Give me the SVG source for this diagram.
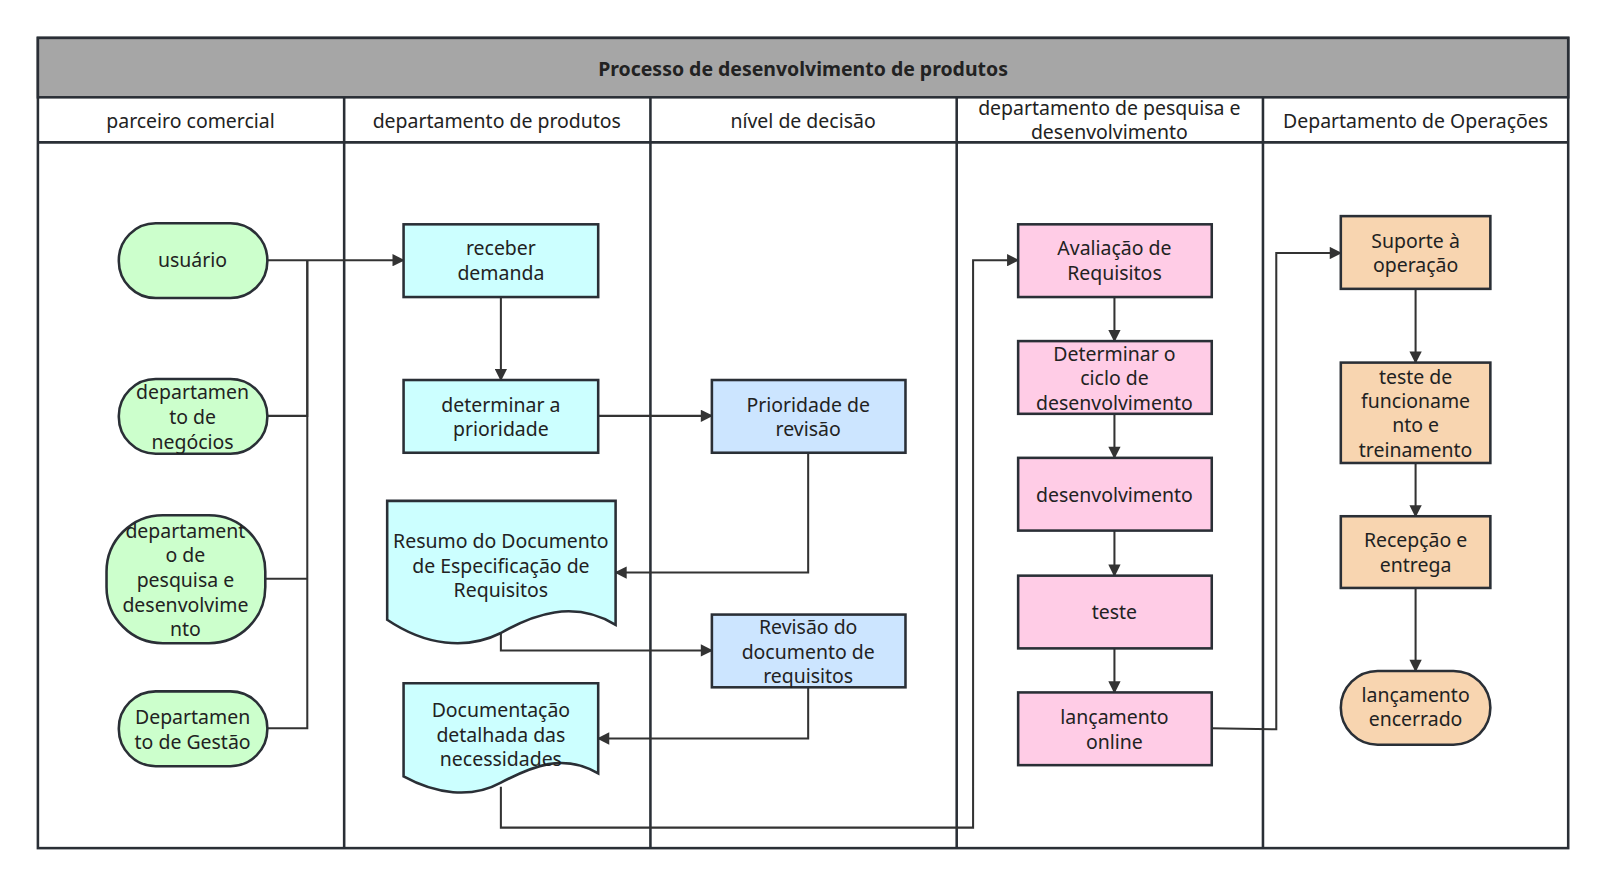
<svg xmlns="http://www.w3.org/2000/svg" width="1605" height="885" viewBox="0 0 1605 885">
<defs>
<style>
text{font-family:"Noto Sans","Open Sans","DejaVu Sans",sans-serif;font-size:19px;fill:#222;text-anchor:middle}
.ln{fill:none;stroke:#2a2f36;stroke-width:2.5}
.n{stroke:#2a2f36;stroke-width:2.5}
.g{fill:#ccffcc}.c{fill:#ccffff}.b{fill:#cce5ff}.p{fill:#ffcce6}.o{fill:#f8d5b0}
.cn{fill:none;stroke:#333;stroke-width:2;marker-end:url(#a)}
.cp{fill:none;stroke:#333;stroke-width:2}
</style>
<marker id="a" viewBox="0 0 10 10" refX="9" refY="5" markerWidth="16" markerHeight="12" orient="auto" markerUnits="userSpaceOnUse"><path d="M0,0L10,5L0,10z" fill="#333"/></marker>
</defs>
<g transform="scale(1.0243)">
<g id="frame">
<rect x="37" y="37" width="1494" height="791" style="fill:#fff" class="ln"/>
<rect x="37" y="37" width="1494" height="58" style="fill:#a6a6a6" class="ln"/>
<text x="784" y="74" style="font-weight:bold;font-size:19px">Processo de desenvolvimento de produtos</text>
<line x1="37" y1="139" x2="1531" y2="139" class="ln"/>
<line x1="336" y1="95" x2="336" y2="828" class="ln"/>
<line x1="635" y1="95" x2="635" y2="828" class="ln"/>
<line x1="934" y1="95" x2="934" y2="828" class="ln"/>
<line x1="1233" y1="95" x2="1233" y2="828" class="ln"/>
<text x="186" y="125">parceiro comercial</text>
<text x="485" y="125">departamento de produtos</text>
<text x="784" y="125">nível de decisão</text>
<text x="1083" y="112">departamento de pesquisa e</text>
<text x="1083" y="136">desenvolvimento</text>
<text x="1382" y="125">Departamento de Operações</text>
</g>
<g id="connectors">
<path d="M261,254H394" class="cn"/>
<path d="M261,406H300V254" class="cp"/>
<path d="M259,565H300" class="cp"/>
<path d="M261,711H300V254" class="cp"/>
<path d="M489,290V371" class="cn"/>
<path d="M584,406H695" class="cn"/>
<path d="M789,442V559H601" class="cn"/>
<path d="M489,612V635H695" class="cn"/>
<path d="M789,671V721H584" class="cn"/>
<path d="M489,768V808H950V254H994" class="cn"/>
<path d="M1088,290V333" class="cn"/>
<path d="M1088,404V447" class="cn"/>
<path d="M1088,518V562" class="cn"/>
<path d="M1088,633V676" class="cn"/>
<path d="M1183,711L1246,712V247H1309" class="cn"/>
<path d="M1382,282V354" class="cn"/>
<path d="M1382,452V504" class="cn"/>
<path d="M1382,574V655" class="cn"/>
</g>
<g id="n1"><rect x="116" y="218" width="145" height="73" rx="36" class="n g"/><text x="188" y="261">usuário</text></g>
<g id="n2"><rect x="116" y="370" width="145" height="73" rx="36" class="n g"/><text x="188" y="390">departamen</text><text x="188" y="414">to de</text><text x="188" y="438">negócios</text></g>
<g id="n3"><rect x="104" y="503" width="155" height="125" rx="55" class="n g"/><text x="181" y="525">departament</text><text x="181" y="549">o de</text><text x="181" y="573">pesquisa e</text><text x="181" y="597">desenvolvime</text><text x="181" y="621">nto</text></g>
<g id="n4"><rect x="116" y="675" width="145" height="73" rx="36" class="n g"/><text x="188" y="707">Departamen</text><text x="188" y="731">to de Gestão</text></g>
<g id="n5"><rect x="394" y="219" width="190" height="71" class="n c"/><text x="489" y="249">receber</text><text x="489" y="273">demanda</text></g>
<g id="n6"><rect x="394" y="371" width="190" height="71" class="n c"/><text x="489" y="402">determinar a</text><text x="489" y="426">prioridade</text></g>
<g id="n7"><path d="M378,489H601V610C560,585 520,600 489,618C455,635 415,630 378,605Z" class="n c"/><text x="489" y="535">Resumo do Documento</text><text x="489" y="559">de Especificação de</text><text x="489" y="583">Requisitos</text></g>
<g id="n8"><path d="M394,667H584V755C550,735 520,748 489,764C460,780 425,775 394,758Z" class="n c"/><text x="489" y="700">Documentação</text><text x="489" y="724">detalhada das</text><text x="489" y="748">necessidades</text></g>
<g id="n9"><rect x="695" y="371" width="189" height="71" class="n b"/><text x="789" y="402">Prioridade de</text><text x="789" y="426">revisão</text></g>
<g id="n10"><rect x="695" y="600" width="189" height="71" class="n b"/><text x="789" y="619">Revisão do</text><text x="789" y="643">documento de</text><text x="789" y="667">requisitos</text></g>
<g id="n11"><rect x="994" y="219" width="189" height="71" class="n p"/><text x="1088" y="249">Avaliação de</text><text x="1088" y="273">Requisitos</text></g>
<g id="n12"><rect x="994" y="333" width="189" height="71" class="n p"/><text x="1088" y="352">Determinar o</text><text x="1088" y="376">ciclo de</text><text x="1088" y="400">desenvolvimento</text></g>
<g id="n13"><rect x="994" y="447" width="189" height="71" class="n p"/><text x="1088" y="490">desenvolvimento</text></g>
<g id="n14"><rect x="994" y="562" width="189" height="71" class="n p"/><text x="1088" y="604">teste</text></g>
<g id="n15"><rect x="994" y="676" width="189" height="71" class="n p"/><text x="1088" y="707">lançamento</text><text x="1088" y="731">online</text></g>
<g id="n16"><rect x="1309" y="211" width="146" height="71" class="n o"/><text x="1382" y="242">Suporte à</text><text x="1382" y="266">operação</text></g>
<g id="n17"><rect x="1309" y="354" width="146" height="98" class="n o"/><text x="1382" y="375">teste de</text><text x="1382" y="398">funcioname</text><text x="1382" y="422">nto e</text><text x="1382" y="446">treinamento</text></g>
<g id="n18"><rect x="1309" y="504" width="146" height="70" class="n o"/><text x="1382" y="534">Recepção e</text><text x="1382" y="558">entrega</text></g>
<g id="n19"><rect x="1309" y="655" width="146" height="72" rx="36" class="n o"/><text x="1382" y="685">lançamento</text><text x="1382" y="709">encerrado</text></g>
</g>
</svg>
